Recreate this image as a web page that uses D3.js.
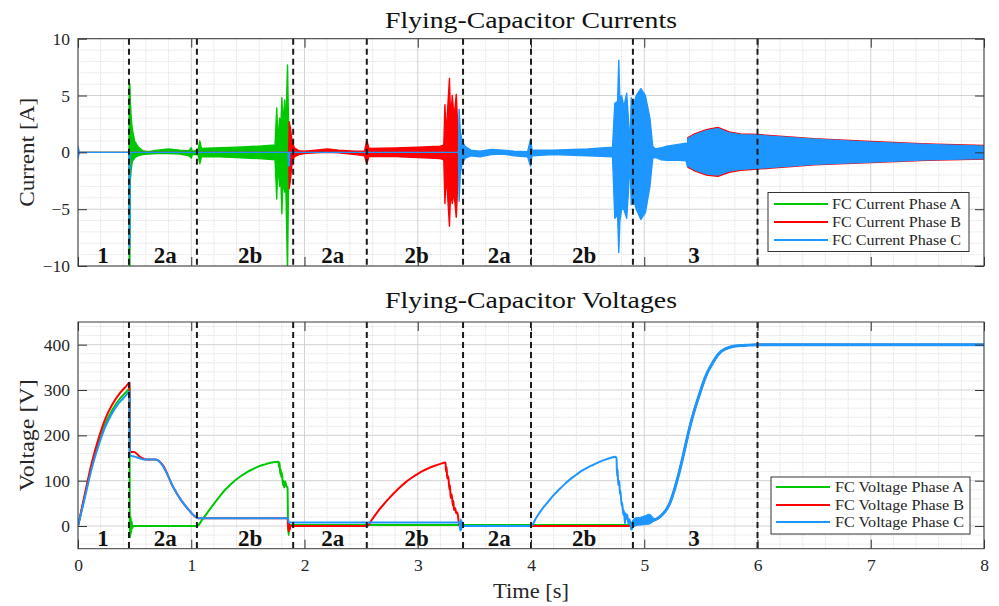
<!DOCTYPE html>
<html><head><meta charset="utf-8">
<script src="https://cdn.jsdelivr.net/npm/d3@7"></script>
<style>body{margin:0;background:#fff}svg text{font-family:"Liberation Serif","Times New Roman",serif}</style>
</head><body><svg id="c" width="999" height="606"></svg>
<script>
// ---------------- DATA ----------------
const xTicks = [0,1,2,3,4,5,6,7,8];
const currentTicks = [-10,-5,0,5,10];
const voltageTicks = [0,100,200,300,400];
const phaseBounds = [0.45,1.05,1.9,2.55,3.4,4.0,4.9,6.0];
const regionLabels = [["1",0.22],["2a",0.77],["2b",1.52],["2a",2.25],["2b",2.99],["2a",3.72],["2b",4.47],["3",5.44]];
const currentNames = ["FC Current Phase A","FC Current Phase B","FC Current Phase C"];
const voltageNames = ["FC Voltage Phase A","FC Voltage Phase B","FC Voltage Phase C"];

// current envelopes: [time s, upper A, lower A]
const currentA = [[0,0,0],[0.45,0,0],[0.452,6.1,-10.5],[0.458,6.0,-10.5],[0.462,4.5,-2.5],[0.47,3.0,-1.5],[0.48,2.0,-0.8],[0.5,1.0,-0.5],[0.53,0.5,-0.3],[0.57,0.15,-0.2],[0.62,0.05,-0.15],[0.7,0.2,-0.1],[0.8,0.3,-0.1],[0.9,0.2,-0.15],[0.98,0.15,-0.3],[1.0,0.4,-0.5],[1.01,0.1,-0.2],[1.06,0.2,-0.2],[1.075,1.0,-1.0],[1.09,0.35,-0.4],[1.2,0.38,-0.38],[1.4,0.45,-0.45],[1.6,0.55,-0.55],[1.74,0.65,-0.65],[1.755,3.9,-4.1],[1.765,1.0,-1.0],[1.78,3.0,-3.0],[1.79,2.0,-2.0],[1.80,4.8,-5.4],[1.81,2.5,-2.5],[1.825,4.6,-3.5],[1.835,2.0,-3.0],[1.85,7.7,-10.5],[1.86,2.0,-2.0],[1.87,0,0],[8,0,0]];
const currentB = [[0,0,0],[1.86,0,0],[1.865,2.7,-3.2],[1.875,2.2,-2.5],[1.89,1.0,-1.0],[1.91,0.4,-0.4],[1.95,0.15,-0.2],[2.0,0.1,-0.1],[2.1,0.2,-0.05],[2.2,0.3,0.0],[2.3,0.2,-0.05],[2.45,0.1,-0.2],[2.53,0.1,-0.3],[2.55,1.05,-1.0],[2.57,0.35,-0.35],[2.8,0.38,-0.38],[3.0,0.45,-0.45],[3.2,0.55,-0.55],[3.23,0.65,-0.65],[3.24,4.2,-4.5],[3.25,1.5,-2.0],[3.265,4.0,-4.0],[3.28,6.5,-6.5],[3.29,3.0,-3.5],[3.305,5.0,-4.5],[3.32,3.0,-3.5],[3.34,5.1,-5.7],[3.355,2.0,-2.5],[3.37,1.0,-1.0],[3.38,0,0],[5.38,0,0],[5.385,1.3,-1.3],[5.45,1.65,-1.65],[5.55,2.0,-2.0],[5.65,2.2,-2.1],[5.75,1.8,-1.75],[5.85,1.62,-1.57],[6.0,1.57,-1.47],[6.5,1.2,-1.1],[7.0,0.95,-0.9],[7.5,0.75,-0.7],[8.0,0.6,-0.6]];
const currentC = [[0,0.55,-0.55],[0.012,0,0],[0.45,0,0],[0.452,0,-8.3],[0.458,0,-8.3],[0.46,0,0],[1.855,0,0],[1.86,0,-1.2],[1.865,0,-1.2],[1.87,0,0],[3.36,0,0],[3.365,3.8,-4.3],[3.375,2.0,-2.0],[3.39,1.0,-1.0],[3.42,0.5,-0.5],[3.47,0.2,-0.3],[3.55,0.1,-0.4],[3.65,0.25,-0.2],[3.75,0.2,-0.15],[3.85,0.1,-0.3],[3.97,0.05,-0.4],[3.995,1.1,-1.2],[4.01,0.2,-0.3],[4.2,0.2,-0.2],[4.5,0.3,-0.3],[4.72,0.45,-0.4],[4.74,4.3,-5.8],[4.765,4.5,-5.5],[4.775,8.1,-8.8],[4.785,4.5,-6.0],[4.8,5.0,-5.0],[4.82,4.0,-5.0],[4.845,5.2,-5.8],[4.86,3.0,-3.5],[4.875,0.5,-0.5],[4.885,4.8,-4.6],[4.9,4.0,-4.0],[4.93,5.0,-5.0],[4.97,5.6,-5.9],[5.01,5.0,-5.3],[5.05,3.0,-3.0],[5.075,0.5,-0.5],[5.1,0.3,-0.45],[5.15,0.4,-0.65],[5.2,0.55,-0.7],[5.3,0.7,-0.7],[5.37,0.8,-0.75],[5.38,0.3,-1.2],[5.385,1.2,-1.2],[5.45,1.55,-1.55],[5.55,1.9,-1.9],[5.65,2.1,-2.0],[5.75,1.7,-1.65],[5.85,1.55,-1.5],[6.0,1.5,-1.4],[6.5,1.15,-1.05],[7.0,0.9,-0.85],[7.5,0.7,-0.65],[8.0,0.55,-0.55]];

// voltages: [time s, V]
const voltagePhase3 = [[4.9,8],[4.95,10],[5.0,12],[5.05,14],[5.08,13],[5.12,17],[5.17,28],[5.2,38],[5.23,53],[5.26,75],[5.29,101],[5.32,130],[5.35,162],[5.38,195],[5.41,226],[5.44,253],[5.47,277],[5.5,300],[5.53,322],[5.56,340],[5.6,358],[5.64,374],[5.68,385],[5.72,391],[5.78,396],[5.85,398],[5.92,399],[6.0,400],[8.0,400]];
const voltageBlob = [[4.88,4,-8],[4.92,18,0],[4.96,19,2],[5.0,22,3],[5.04,26,4],[5.06,24,6],[5.08,18,10],[5.1,16,13]];
const voltageA = [[0,0],[0.06,66],[0.12,131],[0.18,182],[0.24,225],[0.3,255],[0.36,278],[0.42,294],[0.455,303],[0.457,0],[0.462,-25],[0.466,20],[0.47,-15],[0.474,10],[0.478,-5],[0.485,0],[1.05,0],[1.1,15],[1.15,32],[1.2,49],[1.25,65],[1.3,80],[1.35,92],[1.4,103],[1.45,112],[1.5,120],[1.55,126],[1.6,132],[1.65,136],[1.7,139.5],[1.77,142],[1.775,130],[1.78,140],[1.785,115],[1.79,125],[1.795,108],[1.8,118],[1.81,90],[1.815,100],[1.82,85],[1.83,98],[1.84,88],[1.85,85],[1.855,0],[1.86,-20],[1.865,2],[4.9,2]];
const voltageB = [[0,0],[0.06,70],[0.12,138],[0.18,192],[0.24,236],[0.3,267],[0.36,290],[0.42,307],[0.455,316],[0.458,164],[0.5,163],[0.55,152],[0.6,147],[0.68,147],[0.75,134],[0.84,86],[0.91,57],[0.98,35],[1.04,20],[1.06,17],[1.85,17],[1.855,0],[1.86,-12],[1.865,5],[1.87,-8],[1.875,0],[2.55,0],[2.6,16],[2.65,33],[2.7,48],[2.75,62],[2.8,75],[2.85,87],[2.9,98],[2.95,107],[3.0,115],[3.05,122],[3.1,128],[3.15,133],[3.2,137],[3.245,140],[3.25,120],[3.255,130],[3.26,105],[3.27,110],[3.28,80],[3.285,90],[3.29,62],[3.3,70],[3.31,45],[3.315,55],[3.32,35],[3.33,40],[3.34,28],[3.35,30],[3.36,12],[3.37,0],[4.9,0]];
const voltageC = [[0,0],[0.06,62],[0.12,126],[0.18,176],[0.24,218],[0.3,248],[0.36,271],[0.42,287],[0.455,296],[0.458,156],[0.5,153],[0.55,149],[0.58,147],[0.69,147],[0.75,132],[0.8,108],[0.84,86],[0.91,57],[0.98,35],[1.04,20],[1.06,17],[1.855,17],[1.86,8],[3.37,8],[3.375,-10],[3.38,15],[3.385,-8],[3.39,10],[3.395,0],[4.0,0],[4.05,20],[4.1,38],[4.15,53],[4.2,68],[4.25,81],[4.3,93],[4.35,104],[4.4,113],[4.45,122],[4.5,129],[4.55,135],[4.6,141],[4.65,146],[4.7,150],[4.745,153],[4.755,150],[4.76,110],[4.765,125],[4.77,90],[4.78,100],[4.785,70],[4.79,78],[4.8,45],[4.805,52],[4.815,25],[4.82,35],[4.83,5],[4.835,28],[4.845,15],[4.85,25],[4.86,5],[4.87,15],[4.88,0],[4.89,-8],[4.9,8]];

const colors = ["#00c800","#ff0000","#1e96ff"];

// ---------------- DRAW ----------------
const svg = d3.select("#c");
const X0=78, X1=984;
const x = d3.scaleLinear().domain([0,8]).range([X0,X1]);
const top1={t:38.7,b:266}, top2={t:322,b:548.7};
const yI = d3.scaleLinear().domain([-10,10]).range([top1.b,top1.t]);
const yV = d3.scaleLinear().domain([-50,450]).range([top2.b,top2.t]);

const defs = svg.append("defs");
[["clip1",top1],["clip2",top2]].forEach(([id,p])=>{
  defs.append("clipPath").attr("id",id).append("rect").attr("x",X0).attr("y",p.t).attr("width",X1-X0).attr("height",p.b-p.t);
});

function grid(g,y,yMinor,yMajor,p){
  const xm = d3.range(0,8.0001,0.2);
  g.selectAll(".vm").data(xm).join("line").attr("x1",d=>x(d)).attr("x2",d=>x(d)).attr("y1",p.t).attr("y2",p.b)
    .attr("stroke",d=>Math.abs(d-Math.round(d))<1e-6?"#d2d2d2":"#e3e3e3").attr("stroke-dasharray",d=>Math.abs(d-Math.round(d))<1e-6?null:"1.5,1");
  g.selectAll(".hm").data(yMinor).join("line").attr("x1",X0).attr("x2",X1).attr("y1",d=>y(d)).attr("y2",d=>y(d))
    .attr("stroke",d=>yMajor.includes(d)?"#d2d2d2":"#e3e3e3").attr("stroke-dasharray",d=>yMajor.includes(d)?null:"1.5,1");
}

function frame(g,y,ticks,p,showX){
  const tk = 9;
  g.append("g").attr("transform",`translate(0,${p.b})`).call(d3.axisBottom(x).tickValues(xTicks).tickSize(-tk).tickPadding(10).tickFormat(showX?d3.format("d"):""));
  g.append("g").attr("transform",`translate(0,${p.t})`).call(d3.axisTop(x).tickValues(xTicks).tickSize(-tk).tickFormat(""));
  g.append("g").attr("transform",`translate(${X0},0)`).call(d3.axisLeft(y).tickValues(ticks).tickSize(-tk).tickPadding(8));
  g.append("g").attr("transform",`translate(${X1},0)`).call(d3.axisRight(y).tickValues(ticks).tickSize(-tk).tickFormat(""));
  g.selectAll(".domain").remove();
  g.selectAll(".tick line").attr("stroke","#333");
  g.selectAll(".tick text").attr("fill","#262626").style("font-size","17.5px").style("font-family",'"Liberation Serif",serif');
  g.append("rect").attr("x",X0).attr("y",p.t).attr("width",X1-X0).attr("height",p.b-p.t).attr("fill","none").attr("stroke","#3a3a3a").attr("stroke-width",1);
}

function dashes(g,p){
  g.selectAll(".pb").data(phaseBounds).join("line").attr("x1",d=>x(d)).attr("x2",d=>x(d)).attr("y1",p.t).attr("y2",p.b)
    .attr("stroke","#1a1a1a").attr("stroke-width",2).attr("stroke-dasharray","6,4");
}
function regions(g,p){
  g.selectAll(".rl").data(regionLabels).join("text").attr("x",d=>x(d[1])).attr("y",p.b-3).attr("text-anchor","middle")
    .style("font-size","23px").style("font-weight","bold").attr("fill","#111").text(d=>d[0]);
}
function legend(g,names,bx,by,bw,bh,lineX0,lineX1,textX,rows){
  g.append("rect").attr("x",bx).attr("y",by).attr("width",bw).attr("height",bh).attr("fill","#fff").attr("stroke","#333").attr("stroke-width",1);
  names.forEach((n,i)=>{
    g.append("line").attr("x1",lineX0).attr("x2",lineX1).attr("y1",rows[i]).attr("y2",rows[i]).attr("stroke",colors[i]).attr("stroke-width",2);
    g.append("text").attr("x",textX).attr("y",rows[i]+5).style("font-size","14.5px").attr("fill","#262626").attr("textLength",129).attr("lengthAdjust","spacingAndGlyphs").text(n);
  });
}

// ----- top plot -----
const g1 = svg.append("g");
grid(g1,yI,d3.range(-10,10.001,1),[-10,-5,0,5,10],top1);
const area = d3.area().x(d=>x(d[0])).y0(d=>yI(d[2])).y1(d=>yI(d[1]));
const dg1 = g1.append("g").attr("clip-path","url(#clip1)");
[currentA,currentB,currentC].forEach((arr,i)=>{
  dg1.append("path").datum(arr).attr("d",area).attr("fill",colors[i]).attr("stroke",colors[i]).attr("stroke-width",1.4).attr("stroke-linejoin","round");
});
dashes(g1,top1);
regions(g1,top1);
legend(g1,currentNames,768,192.5,201,59,774,828,832,[204,222,240]);
frame(g1,yI,currentTicks,top1,false);
svg.append("text").attr("x",(X0+X1)/2).attr("y",28).attr("text-anchor","middle").style("font-size","23px").attr("fill","#111").attr("textLength",292).attr("lengthAdjust","spacingAndGlyphs").text("Flying-Capacitor Currents");
svg.append("text").attr("transform",`translate(34,${(top1.t+top1.b)/2}) rotate(-90)`).attr("text-anchor","middle").style("font-size","20px").attr("fill","#262626").attr("textLength",109).attr("lengthAdjust","spacingAndGlyphs").text("Current [A]");

// ----- bottom plot -----
const g2 = svg.append("g");
grid(g2,yV,d3.range(-40,450,20),[0,100,200,300,400],top2);
const dg2 = g2.append("g").attr("clip-path","url(#clip2)");
const line = d3.line().x(d=>x(d[0])).y(d=>yV(d[1])).curve(d3.curveMonotoneX);
const vArea = d3.area().x(d=>x(d[0])).y0(d=>yV(d[2])).y1(d=>yV(d[1])).curve(d3.curveMonotoneX);
[voltageA.concat(voltagePhase3),voltageB.concat(voltagePhase3),voltageC].forEach((arr,i)=>{
  dg2.append("path").datum(arr).attr("d",line).attr("fill","none").attr("stroke",colors[i]).attr("stroke-width",2).attr("stroke-linejoin","round");
});
dg2.append("path").datum(voltageBlob).attr("d",vArea).attr("fill",colors[2]).attr("stroke",colors[2]).attr("stroke-width",1);
dg2.append("path").datum(voltagePhase3).attr("d",line).attr("fill","none").attr("stroke",colors[2]).attr("stroke-width",3).attr("stroke-linejoin","round");
dashes(g2,top2);
regions(g2,top2);
legend(g2,voltageNames,771,477,199,57,776,830,835,[487,505,522]);
frame(g2,yV,voltageTicks,top2,true);
svg.append("text").attr("x",(X0+X1)/2).attr("y",308).attr("text-anchor","middle").style("font-size","23px").attr("fill","#111").attr("textLength",292).attr("lengthAdjust","spacingAndGlyphs").text("Flying-Capacitor Voltages");
svg.append("text").attr("transform",`translate(34,${(top2.t+top2.b)/2}) rotate(-90)`).attr("text-anchor","middle").style("font-size","20px").attr("fill","#262626").attr("textLength",112).attr("lengthAdjust","spacingAndGlyphs").text("Voltage [V]");
svg.append("text").attr("x",(X0+X1)/2).attr("y",598).attr("text-anchor","middle").style("font-size","20px").attr("fill","#262626").attr("textLength",76).attr("lengthAdjust","spacingAndGlyphs").text("Time [s]");
</script></body></html>
